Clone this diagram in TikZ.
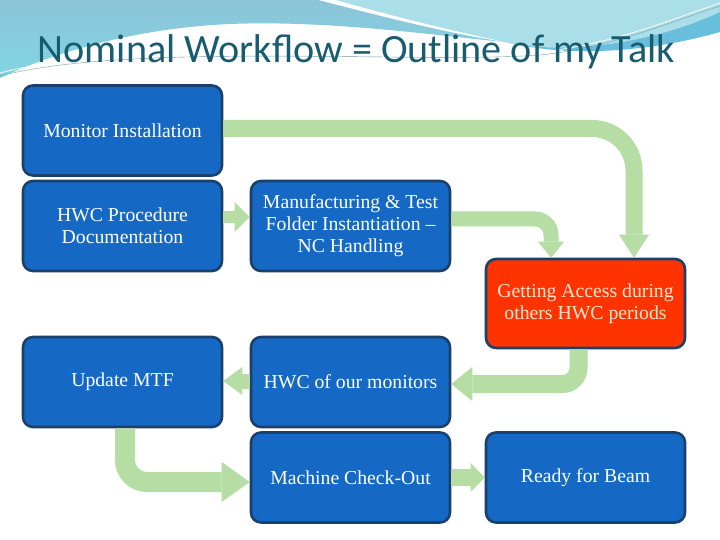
\documentclass[tikz,border=0pt]{standalone}
\usepackage{fontspec}
\setmainfont{Liberation Serif}
\newfontfamily\titlefont{Carlito}
\usetikzlibrary{arrows.meta,calc}
\definecolor{boxblue}{RGB}{21,105,196}
\definecolor{boxline}{RGB}{26,64,108}
\definecolor{accred}{RGB}{255,51,0}
\definecolor{acctext}{RGB}{255,232,208}
\definecolor{flowgreen}{RGB}{181,221,164}
\definecolor{titleteal}{RGB}{24,92,112}
\definecolor{skyblue}{RGB}{140,196,216}
\definecolor{skylow}{RGB}{128,214,226}
\definecolor{skycyan}{RGB}{170,222,232}
\definecolor{skydeep}{RGB}{104,190,220}
\tikzset{
  stage/.style={draw=boxline, line width=2.6bp, fill=boxblue, rounded corners=10bp,
    minimum width=199bp, minimum height=90bp, inner sep=0pt, align=center,
    text=white, font=\fontsize{19.8}{22}\selectfont},
  flow/.style args={#1/#2/#3}{draw=flowgreen, line width=#1,
    -{Triangle[width=#2,length=#3,line width=0pt]}}
}
\begin{document}
\begin{tikzpicture}[x=1bp,y=-1bp]
  \useasboundingbox (0,0) rectangle (720,540);
  \fill[white] (0,0) rectangle (720,540);
  % sky swoosh at the top
  \shade[top color=skyblue, bottom color=skylow] (0,0) -- (318,0)
    .. controls (380,16) and (450,34) .. (505,42)
    .. controls (440,36) and (330,20) .. (230,24)
    .. controls (140,28) and (60,50) .. (0,78) -- cycle;
  \fill[skycyan] (336,0) -- (720,0) -- (720,12)
    .. controls (650,45) and (560,55) .. (505,42)
    .. controls (440,28) and (385,14) .. (336,0) -- cycle;
  \fill[skydeep] (505,42) .. controls (560,55) and (650,45) .. (720,12)
    -- (720,32) .. controls (650,52) and (570,58) .. (505,42) -- cycle;
  \draw[white, line width=0.8bp] (0,73) .. controls (120,40) and (420,60) .. (540,52)
    .. controls (610,45) and (670,20) .. (720,3);
  \draw[titleteal!60, line width=0.4bp] (0,76) .. controls (130,42) and (420,64) .. (540,55)
    .. controls (610,48) and (670,22) .. (720,6);
  \node[font=\titlefont\fontsize{40.3}{41}\selectfont, text=titleteal, anchor=base]
    (title) at (356.5,63) {Nominal Workflow = Outline of my Talk};
  % stages
  \node[stage] (mon) at (122.5,130.5) {Monitor Installation};
  \node[stage] (hwc) at (122.5,226) {HWC Procedure\\Documentation};
  \node[stage] (man) at (350.5,226) {Manufacturing \& Test\\Folder Instantiation --\\NC Handling};
  \node[stage, fill=accred, text=acctext, minimum height=89bp] (acc) at (585.5,303.5)
    {Getting Access during\\others HWC periods};
  \node[stage] (upd) at (122.5,382) {Update MTF};
  \node[stage] (ours) at (350.5,382) {HWC of our monitors};
  \node[stage] (chk) at (350.5,477.5) {Machine Check-Out};
  \node[stage] (rdy) at (585.5,477.5) {Ready for Beam};
  % flow arrows
  \coordinate (accin1) at ($(acc.north)+(48.5,0)$);
  \coordinate (accin2) at ($(acc.north)+(-34.5,0)$);
  \coordinate (monout) at ($(mon.east)+(0,-2)$);
  \coordinate (manout) at ($(man.east)+(0,-7)$);
  \coordinate (hwcout) at ($(hwc.east)+(0,-9)$);
  \coordinate (manin) at ($(man.west)+(0,-9)$);
  \coordinate (accout) at ($(acc.south)+(-7,0)$);
  \coordinate (oursin) at ($(ours.east)+(0,2)$);
  \coordinate (oursout) at ($(ours.west)+(0,-1)$);
  \coordinate (updin) at ($(upd.east)+(0,-1)$);
  \coordinate (updout) at ($(upd.south)+(2.5,0)$);
  \coordinate (chkin) at ($(chk.west)+(0,4.5)$);
  \draw[flow={17bp/30bp/23bp}, rounded corners=42bp] (monout) -| (accin1);
  \draw[flow={15bp/26bp/16bp}, rounded corners=16bp] (manout) -| (accin2);
  \draw[flow={12bp/30bp/15bp}] (hwcout) -- (manin);
  \draw[flow={18bp/34bp/21bp}, rounded corners=16bp] (accout) |- (oursin);
  \draw[flow={15bp/28bp/19bp}] (oursout) -- (updin);
  \draw[flow={20bp/40bp/28bp}, rounded corners=22bp] (updout) |- (chkin);
  \draw[flow={17bp/29bp/14bp}] (chk.east) -- (rdy.west);
\end{tikzpicture}
\end{document}
